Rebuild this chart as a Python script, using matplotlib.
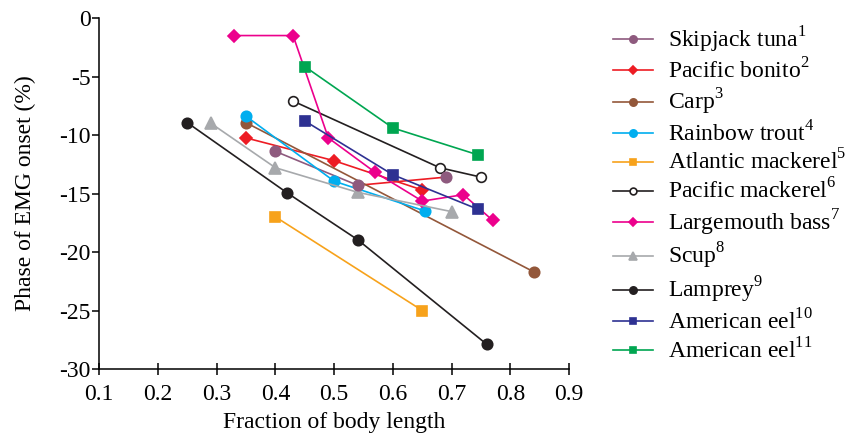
import matplotlib
matplotlib.use("Agg")
import matplotlib.pyplot as plt

plt.rcParams["font.family"] = ["Liberation Serif", "DejaVu Serif"]
plt.rcParams["mathtext.fontset"] = "custom"
plt.rcParams["mathtext.rm"] = "Liberation Serif"

# Phase of EMG onset (%) against fraction of body length, per species
skipjack_x = [0.40, 0.54, 0.69]
skipjack_y = [-11.4, -14.3, -13.6]
bonito_x = [0.35, 0.50, 0.65]
bonito_y = [-10.25, -12.2, -14.7]
carp_x = [0.35, 0.84]
carp_y = [-8.95, -21.7]
trout_x = [0.35, 0.50, 0.655]
trout_y = [-8.4, -13.95, -16.5]
atl_mackerel_x = [0.40, 0.65]
atl_mackerel_y = [-17.0, -25.0]
pac_mackerel_x = [0.43, 0.68, 0.75]
pac_mackerel_y = [-7.1, -12.8, -13.6]
bass_x = [0.33, 0.43, 0.49, 0.57, 0.65, 0.72, 0.77]
bass_y = [-1.5, -1.5, -10.25, -13.2, -15.65, -15.1, -17.3]
scup_x = [0.29, 0.40, 0.54, 0.70]
scup_y = [-9.0, -12.8, -14.9, -16.55]
lamprey_x = [0.25, 0.42, 0.54, 0.76]
lamprey_y = [-8.95, -14.95, -18.95, -27.9]
eel10_x = [0.45, 0.60, 0.745]
eel10_y = [-8.8, -13.4, -16.35]
eel11_x = [0.45, 0.60, 0.745]
eel11_y = [-4.15, -9.4, -11.7]

x_ticks = [0.1, 0.2, 0.3, 0.4, 0.5, 0.6, 0.7, 0.8, 0.9]
y_ticks = [0, -5, -10, -15, -20, -25, -30]

series = [
    ("Skipjack tuna", 1, skipjack_x, skipjack_y, "#8E5A7E", "o", True, 7.5),
    ("Pacific bonito", 2, bonito_x, bonito_y, "#ED1C24", "D", True, 6.5),
    ("Carp", 3, carp_x, carp_y, "#93573A", "o", True, 7.5),
    ("Rainbow trout", 4, trout_x, trout_y, "#00AEEF", "o", True, 7.5),
    ("Atlantic mackerel", 5, atl_mackerel_x, atl_mackerel_y, "#F7A21B", "s", True, 6.5),
    ("Pacific mackerel", 6, pac_mackerel_x, pac_mackerel_y, "#231F20", "o", False, 7),
    ("Largemouth bass", 7, bass_x, bass_y, "#EC008C", "D", True, 6.5),
    ("Scup", 8, scup_x, scup_y, "#A7A9AC", "^", True, 8.5),
    ("Lamprey", 9, lamprey_x, lamprey_y, "#231F20", "o", True, 7.5),
    ("American eel", 10, eel10_x, eel10_y, "#2E3192", "s", True, 6.5),
    ("American eel", 11, eel11_x, eel11_y, "#00A651", "s", True, 6.5),
]

FS = 17

fig = plt.figure(figsize=(8.62, 4.37), dpi=100)
ax = fig.add_axes([0.1152, 0.1556, 0.545, 0.8032])

handles = []
for name, ref, xs, ys, color, marker, filled, ms in series:
    face = color if filled else "white"
    if name == "Skipjack tuna":
        # last segment of the skipjack curve is drawn in red
        ax.plot(xs[:2], ys[:2], color=color, lw=1.2, zorder=2)
        ax.plot(xs[1:], ys[1:], color="#ED1C24", lw=1.2, zorder=2)
        ax.plot(xs, ys, ls="none", marker=marker, ms=ms, mfc=face,
                mec=color, mew=1.2, zorder=3)
        h, = ax.plot([], [], color=color, lw=1.2, marker=marker, ms=ms,
                     mfc=face, mec=color, mew=1.2)
    else:
        h, = ax.plot(xs, ys, color=color, lw=1.2, marker=marker, ms=ms,
                     mfc=face, mec=color, mew=1.2, zorder=2)
    h.set_label(f"{name}$^{{\\mathrm{{{ref}}}}}$")
    handles.append(h)

ax.set_xlim(0.1, 0.9)
ax.set_ylim(-30, 0)
ax.set_xticks(x_ticks)
ax.set_xticklabels([f"{t:.1f}" for t in x_ticks])
ax.set_yticks(y_ticks)
ax.set_yticklabels([f"{t}" for t in y_ticks])
for s in ("top", "right"):
    ax.spines[s].set_visible(False)
for s in ("left", "bottom"):
    ax.spines[s].set_linewidth(1.1)
ax.tick_params(axis="x", direction="inout", length=8, width=1.1, labelsize=FS, pad=7)
ax.tick_params(axis="y", direction="out", length=5, width=1.1, labelsize=FS, pad=1)
ax.set_xlabel("Fraction of body length", fontsize=FS, labelpad=4.5)
ax.set_ylabel("Phase of EMG onset (%)", fontsize=FS, labelpad=17)

fig.legend(handles=handles, loc="upper left",
           bbox_to_anchor=(0.700, 0.966), frameon=False, fontsize=FS,
           handlelength=1.7, handletextpad=0.64, labelspacing=0.15,
           markerscale=0.7, borderaxespad=0)

fig.savefig("out.png", dpi=100)
